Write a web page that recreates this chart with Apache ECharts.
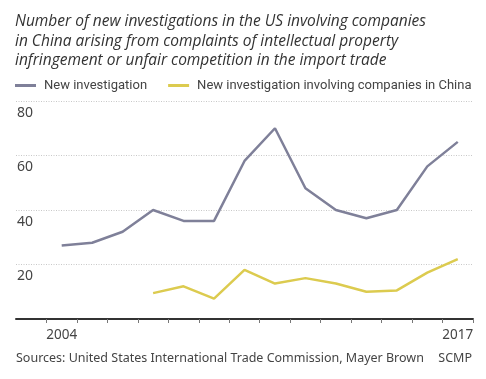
<!DOCTYPE html>
<html><head><meta charset="utf-8">
<script src="https://cdn.jsdelivr.net/npm/echarts@6/dist/echarts.min.js"></script>
<style>html,body{margin:0;padding:0;background:#fff}#c{width:486px;height:379px}</style>
</head><body><div id="c"></div>
<script>
var years = ['2004','2005','2006','2007','2008','2009','2010','2011','2012','2013','2014','2015','2016','2017'];
var newInvestigation = [27, 28, 32, 40, 36, 36, 58, 70, 48, 40, 37, 40, 56, 65];
var chinaInvestigation = [null, null, null, 9.5, 12, 7.5, 18, 13, 15, 13, 10, 10.5, 17, 22];
var yTicks = [0, 20, 40, 60, 80];
var shownYears = ['2004', '2017'];

var cats = [''].concat(years);
var s1 = [null].concat(newInvestigation);
var s2 = [null].concat(chinaInvestigation);

var chart = echarts.init(document.getElementById('c'), null, {renderer: 'canvas'});
chart.setOption({
  animation: false,
  backgroundColor: '#fff',
  textStyle: {fontFamily: 'Noto Sans'},
  graphic: [
    {type: 'text', left: 15, top: 12, style: {
      text: 'Number of new investigations in the US involving companies\nin China arising from complaints of intellectual property\ninfringement or unfair competition in the import trade',
      font: 'italic 15.5px "Open Sans"', fill: '#333', lineHeight: 19.5}},
    {type: 'text', left: 16, top: 352, style: {
      text: 'Sources: United States International Trade Commission, Mayer Brown',
      font: '12.5px "Noto Sans"', fill: '#444'}},
    {type: 'text', right: 14, top: 352, style: {
      text: 'SCMP', font: '12.5px "Noto Sans"', fill: '#444'}}
  ],
  legend: {
    left: 15, right: 0, top: 79, padding: 0, itemGap: 21, itemWidth: 21, itemHeight: 3, icon: 'rect',
    textStyle: {fontSize: 13, color: '#444', fontFamily: 'Roboto', padding: [0, 0, 0, 3]},
    data: ['New investigation', 'New investigation involving companies in China']
  },
  grid: {left: 16, right: 13, top: 101, bottom: 60, containLabel: false},
  xAxis: {
    type: 'category', data: cats, boundaryGap: true,
    axisLine: {lineStyle: {color: '#333', width: 2}},
    axisTick: {show: true, length: 4, lineStyle: {color: '#777'},
      interval: function (i) { return i !== 0; }},
    axisLabel: {interval: 0, color: '#444', fontSize: 13.5, margin: 9,
      formatter: function (v) { return shownYears.indexOf(v) >= 0 ? v : ''; }}
  },
  yAxis: {
    type: 'value', min: yTicks[0], max: yTicks[yTicks.length - 1], interval: 20,
    axisLine: {show: false}, axisTick: {show: false},
    axisLabel: {inside: true, margin: 1, verticalAlign: 'top', padding: [5, 0, 0, 0],
      color: '#444', fontSize: 14,
      formatter: function (v) { return v === 0 ? '' : String(v); }},
    splitLine: {lineStyle: {color: '#c8c8c8', type: [1, 1.5], width: 1}}
  },
  series: [
    {name: 'New investigation', type: 'line', data: s1, symbol: 'none',
      itemStyle: {color: '#7f8099'}, lineStyle: {color: '#7f8099', width: 2.5}},
    {name: 'New investigation involving companies in China', type: 'line', data: s2, symbol: 'none',
      itemStyle: {color: '#dccb4f'}, lineStyle: {color: '#dccb4f', width: 2.5}}
  ]
});
</script></body></html>
